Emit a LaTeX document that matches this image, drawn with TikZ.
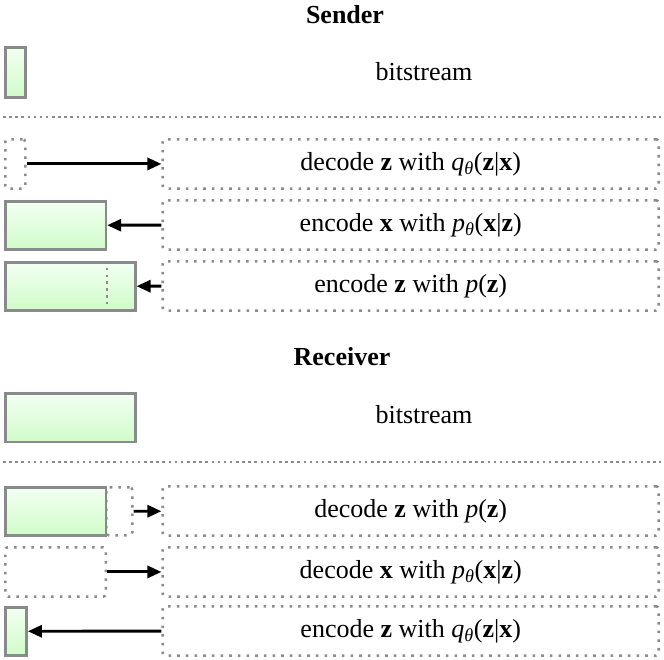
\documentclass[tikz,border=0pt]{standalone}
\usepackage{fontspec}
\setmainfont{Liberation Serif}
\usepackage{tikz}
\usetikzlibrary{arrows.meta}
\definecolor{rimgray}{RGB}{136,138,140}
\definecolor{dotgray}{RGB}{140,140,140}
\definecolor{bitlight}{RGB}{242,255,242}
\definecolor{bitdark}{RGB}{208,252,200}
\newcommand{\qth}{\textit{q}\textsubscript{\textit{θ}}}
\newcommand{\pth}{\textit{p}\textsubscript{\textit{θ}}}
\newcommand{\bz}{\textbf{z}}
\newcommand{\bx}{\textbf{x}}

\begin{document}
\begin{tikzpicture}[x=0.75pt, y=-0.75pt,
  bits/.style={draw=rimgray, line width=1.9pt, top color=bitlight,
    bottom color=bitdark, inner sep=0pt, anchor=north west},
  slot/.style={draw=dotgray, line width=1.9pt, dash pattern=on 1.9pt off 4.6pt,
    rounded corners=2pt, inner sep=0pt, anchor=north west},
  slotline/.style={draw=dotgray, line width=1.9pt, dash pattern=on 1.9pt off 3.2pt},
  task/.style={slot, anchor=north east, minimum width=372pt,
    minimum height=37pt, font=\fontsize{19.5}{23}\selectfont},
  heading/.style={font=\fontsize{19.5}{23}\selectfont\bfseries},
  plain/.style={font=\fontsize{19.5}{23}\selectfont},
  divider/.style={draw=dotgray, line width=1.9pt, dash pattern=on 1.9pt off 2.7pt},
  arrow/.style={-{Triangle[length=10.5pt, width=9pt]}, line width=2.2pt, black}
]
  \useasboundingbox (0,0) rectangle (664,660);

  % Sender
  \node[heading] (sendhead) at (345,15) {Sender};
  \node[bits, minimum width=15pt, minimum height=37.5pt] (sbit) at (4,46) {};
  \node[plain] (sbitlab) at (424,72) {bitstream};
  \coordinate (sl) at (3,117);
  \coordinate (sr) at (661,117);
  \draw[divider] (sl) -- (sr);

  \node[slot, minimum width=15pt, minimum height=37pt] (s1) at (4,138) {};
  \node[task] (s1t) at (660,138) {decode \bz{} with \qth(\bz|\bx)};
  \node[bits, minimum width=75.5pt, minimum height=36pt] (s2) at (4,200) {};
  \node[task] (s2t) at (660,199) {encode \bx{} with \pth(\bx|\bz)};
  \node[bits, minimum width=97.5pt, minimum height=36pt] (s3) at (4,261) {};
  \node[task] (s3t) at (660,260) {encode \bz{} with \textit{p}(\bz)};
  \draw[slotline] (s3.north -| s2.east) -- (s3.south -| s2.east);

  \foreach \a/\b in {s1/s1t, s2t/s2, s3t/s3} {
    \draw[arrow] (\a) -- (\b);
  }

  % Receiver
  \node[heading] (recvhead) at (342,357) {Receiver};
  \node[bits, minimum width=97.5pt, minimum height=36.5pt] (rbit) at (4,392) {};
  \node[plain] (rbitlab) at (424,415) {bitstream};
  \coordinate (rl) at (3,462);
  \coordinate (rr) at (661,462);
  \draw[divider] (rl) -- (rr);

  \node[slot, minimum width=19.5pt, minimum height=36pt] (r1b) at (105,486) {};
  \node[bits, minimum width=75.5pt, minimum height=36pt] (r1) at (4,486) {};
  \node[task] (r1t) at (660,485) {decode \bz{} with \textit{p}(\bz)};
  \node[slot, minimum width=75.5pt, minimum height=37pt] (r2) at (4,546) {};
  \node[task] (r2t) at (660,546) {decode \bx{} with \pth(\bx|\bz)};
  \node[bits, minimum width=16pt, minimum height=36pt] (r3) at (4,606) {};
  \node[task] (r3t) at (660,605) {encode \bz{} with \qth(\bz|\bx)};

  \foreach \a/\b in {r1b/r1t, r2/r2t, r3t/r3} {
    \draw[arrow] (\a) -- (\b);
  }
\end{tikzpicture}
\end{document}
